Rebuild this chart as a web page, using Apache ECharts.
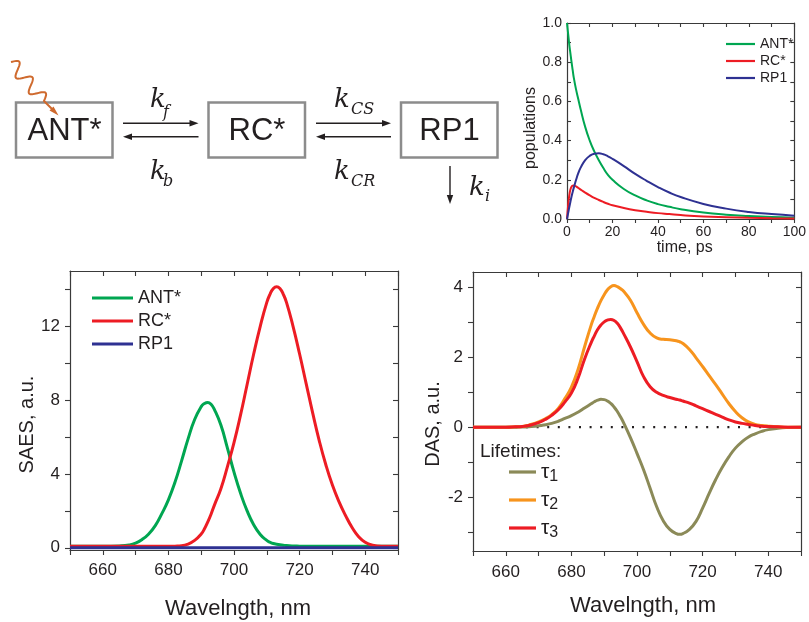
<!DOCTYPE html>
<html><head><meta charset="utf-8">
<script src="https://cdn.jsdelivr.net/npm/echarts@6/dist/echarts.min.js"></script>
<style>html,body{margin:0;padding:0;background:#fff}#c{width:809px;height:622px}</style>
</head><body><div id="c"></div>
<script>
// ---------- populations (top right) ----------
const popTime = [0,0.5,1,1.5,2,2.5,3,4,5,6,8,10,12,14,16,18,20,25,30,35,40,45,50,60,70,80,90,100];
const popANT  = [1.0,0.945,0.89,0.845,0.8,0.76,0.72,0.66,0.61,0.56,0.47,0.4,0.345,0.3,0.26,0.225,0.2,0.153,0.12,0.095,0.076,0.062,0.05,0.033,0.022,0.015,0.01,0.007];
const popRC   = [0,0.07,0.12,0.15,0.165,0.17,0.171,0.166,0.158,0.15,0.135,0.121,0.108,0.097,0.087,0.078,0.07,0.056,0.045,0.037,0.03,0.025,0.02,0.013,0.009,0.006,0.004,0.003];
const popRP1  = [0,0.03,0.06,0.088,0.115,0.138,0.16,0.2,0.235,0.262,0.3,0.322,0.333,0.335,0.33,0.32,0.307,0.27,0.23,0.195,0.163,0.135,0.112,0.077,0.053,0.036,0.025,0.017];

// ---------- SAES (bottom left) ----------
const saesWl  = [650,655,660,665,668,670,672,674,676,678,680,682,684,686,688,690,691,692,693,694,696,698,700,702,704,706,708,710,711,712,713,714,715,716,718,720,722,724,726,728,730,732,734,736,738,740,742,745,750];
const saesANT = [0.08,0.08,0.08,0.1,0.15,0.25,0.45,0.75,1.2,1.85,2.6,3.55,4.7,5.9,6.95,7.65,7.82,7.88,7.78,7.5,6.65,5.4,4.1,2.95,2.0,1.25,0.72,0.4,0.3,0.23,0.19,0.16,0.14,0.12,0.1,0.09,0.08,0.08,0.08,0.08,0.08,0.08,0.08,0.08,0.08,0.08,0.08,0.08,0.08];
const saesRC  = [0.08,0.08,0.08,0.08,0.08,0.08,0.08,0.08,0.08,0.08,0.08,0.09,0.11,0.2,0.4,0.75,1.03,1.4,1.82,2.3,3.2,4.4,5.7,7.2,8.85,10.5,12.0,13.3,13.75,14.05,14.15,14.05,13.75,13.3,12.0,10.5,8.9,7.3,5.8,4.5,3.4,2.5,1.75,1.1,0.6,0.3,0.15,0.08,0.08];
const saesRP1 = [0,0,0,0,0,0,0,0,0,0,0,0,0,0,0,0,0,0,0,0,0,0,0,0,0,0,0,0,0,0,0,0,0,0,0,0,0,0,0,0,0,0,0,0,0,0,0,0,0];
const saesYTicks = [0,2,4,6,8,10,12,14];
const saesYLabels = [0,4,8,12];

// ---------- DAS (bottom right) ----------
const dasWl   = [650,655,660,663,665,667,670,672,674,676,678,680,682,684,686,687,688,689,690,691,692,693,694,695,696,698,700,702,704,706,708,710,712,713,714,716,718,720,722,724,726,728,730,732,734,736,738,740,743,746,750];
const dasTau1 = [0,0,0,0,0.005,0.015,0.04,0.07,0.11,0.17,0.25,0.33,0.43,0.55,0.67,0.73,0.775,0.8,0.79,0.75,0.68,0.58,0.45,0.29,0.11,-0.3,-0.75,-1.22,-1.75,-2.28,-2.68,-2.93,-3.05,-3.07,-3.05,-2.93,-2.7,-2.32,-1.9,-1.5,-1.15,-0.85,-0.6,-0.42,-0.28,-0.19,-0.12,-0.07,-0.03,-0.01,0];
const dasTau2 = [0,0,0,0.01,0.02,0.06,0.15,0.24,0.36,0.54,0.82,1.15,1.65,2.3,2.92,3.18,3.42,3.63,3.8,3.94,4.03,4.06,4.03,3.97,3.89,3.64,3.28,2.95,2.7,2.56,2.52,2.51,2.48,2.45,2.4,2.23,1.99,1.74,1.48,1.22,0.95,0.68,0.45,0.27,0.15,0.08,0.05,0.03,0.01,0,0];
const dasTau3 = [0,0,0,0.01,0.02,0.05,0.13,0.22,0.34,0.5,0.72,0.98,1.4,1.95,2.42,2.62,2.8,2.93,3.02,3.07,3.09,3.06,2.98,2.84,2.67,2.3,1.88,1.45,1.16,1.0,0.91,0.85,0.8,0.78,0.75,0.69,0.61,0.53,0.45,0.37,0.29,0.21,0.15,0.11,0.08,0.05,0.03,0.02,0.01,0,0];
const dasZeroWl = [650,750];
const dasZero = [0,0];
const dasYTicks = [-3,-2,-1,0,1,2,3,4];
const dasYLabels = [-2,0,2,4];

const zip = (xs, ys) => xs.map((x, i) => [x, ys[i]]);

const ink = '#231f20';
const frame = '#3a3a3a';
const FONT = 'Liberation Sans';
const cGreen = '#00a651', cRed = '#ed1c24', cBlue = '#2e3192';
const cOlive = '#8b8a58', cOrange = '#f7941d';

const axLine = {show: true, onZero: false, lineStyle: {color: frame, width: 1.2}};
const tickStyle = {color: frame, width: 1.1};

function wlLabel(v) { return (v % 20 === 0 && v > 650 && v < 750) ? String(v) : ''; }

const xAxes = [
  {gridIndex: 0, type: 'value', min: 0, max: 100, interval: 20, axisLine: axLine,
   axisTick: {inside: false, length: 4, lineStyle: tickStyle},
   minorTick: {show: true, splitNumber: 2, length: 4, lineStyle: tickStyle},
   splitLine: {show: false}, minorSplitLine: {show: false},
   axisLabel: {fontSize: 14, color: ink, margin: 6, fontFamily: FONT},
   name: 'time, ps', nameLocation: 'middle', nameGap: 18,
   nameTextStyle: {fontSize: 16, color: ink, fontFamily: FONT, padding: [0, 0, 0, 8]}},
  {gridIndex: 0, type: 'value', position: 'top', min: 0, max: 100, interval: 20, axisLine: axLine,
   axisTick: {inside: true, length: 4, lineStyle: tickStyle},
   minorTick: {show: true, splitNumber: 2, length: 4, lineStyle: tickStyle},
   splitLine: {show: false}, axisLabel: {show: false}},
  {gridIndex: 1, type: 'value', min: 650, max: 750, interval: 10, axisLine: axLine,
   axisTick: {inside: false, length: 5, lineStyle: tickStyle}, splitLine: {show: false},
   axisLabel: {fontSize: 17, color: ink, margin: 12, fontFamily: FONT, formatter: wlLabel, showMinLabel: true, showMaxLabel: true},
   name: 'Wavelngth, nm', nameLocation: 'middle', nameGap: 48,
   nameTextStyle: {fontSize: 22, color: ink, fontFamily: FONT, padding: [0, 0, 0, 8]}},
  {gridIndex: 1, type: 'value', position: 'top', min: 650, max: 750, interval: 10, axisLine: axLine,
   axisTick: {inside: true, length: 5, lineStyle: tickStyle}, splitLine: {show: false}, axisLabel: {show: false}},
  {gridIndex: 2, type: 'value', min: 650, max: 750, interval: 10, axisLine: axLine,
   axisTick: {inside: false, length: 5, lineStyle: tickStyle}, splitLine: {show: false},
   axisLabel: {fontSize: 17, color: ink, margin: 13, fontFamily: FONT, formatter: wlLabel, showMinLabel: true, showMaxLabel: true},
   name: 'Wavelngth, nm', nameLocation: 'middle', nameGap: 44,
   nameTextStyle: {fontSize: 22, color: ink, fontFamily: FONT, padding: [0, 0, 0, 12]}},
  {gridIndex: 2, type: 'value', position: 'top', min: 650, max: 750, interval: 10, axisLine: axLine,
   axisTick: {inside: true, length: 5, lineStyle: tickStyle}, splitLine: {show: false}, axisLabel: {show: false}}
];

const yAxes = [
  {gridIndex: 0, type: 'value', min: 0, max: 1, interval: 0.2, axisLine: axLine,
   axisTick: {inside: true, length: 4, lineStyle: tickStyle},
   minorTick: {show: true, splitNumber: 2, length: 4, lineStyle: tickStyle},
   splitLine: {show: false}, minorSplitLine: {show: false},
   axisLabel: {fontSize: 14, color: ink, margin: 5, fontFamily: FONT, formatter: v => v.toFixed(1)},
   name: 'populations', nameLocation: 'middle', nameGap: 26,
   nameTextStyle: {fontSize: 16, color: ink, fontFamily: FONT, padding: [0, 14, 0, 0]}},
  {gridIndex: 0, type: 'value', position: 'right', min: 0, max: 1, interval: 0.2, axisLine: axLine,
   axisTick: {inside: true, length: 4, lineStyle: tickStyle},
   minorTick: {show: true, splitNumber: 2, length: 4, lineStyle: tickStyle},
   splitLine: {show: false}, axisLabel: {show: false}},
  {gridIndex: 1, type: 'value', min: -0.12, max: 15, axisLine: axLine,
   axisTick: {inside: false, length: 5, lineStyle: tickStyle, customValues: saesYTicks},
   splitLine: {show: false},
   axisLabel: {fontSize: 17, color: ink, margin: 10, fontFamily: FONT, customValues: saesYLabels},
   name: 'SAES, a.u.', nameLocation: 'middle', nameGap: 33,
   nameTextStyle: {fontSize: 20, color: ink, fontFamily: FONT, padding: [0, 28, 0, 0]}},
  {gridIndex: 1, type: 'value', position: 'right', min: -0.12, max: 15, axisLine: axLine,
   axisTick: {inside: true, length: 5, lineStyle: tickStyle, customValues: saesYTicks},
   splitLine: {show: false}, axisLabel: {show: false}},
  {gridIndex: 2, type: 'value', min: -3.55, max: 4.45, axisLine: axLine,
   axisTick: {inside: false, length: 5, lineStyle: tickStyle, customValues: dasYTicks},
   splitLine: {show: false},
   axisLabel: {fontSize: 17, color: ink, margin: 10, fontFamily: FONT, customValues: dasYLabels},
   name: 'DAS, a.u.', nameLocation: 'middle', nameGap: 27,
   nameTextStyle: {fontSize: 20, color: ink, fontFamily: FONT, padding: [0, 25, 0, 0]}},
  {gridIndex: 2, type: 'value', position: 'right', min: -3.55, max: 4.45, axisLine: axLine,
   axisTick: {inside: true, length: 5, lineStyle: tickStyle, customValues: dasYTicks},
   splitLine: {show: false}, axisLabel: {show: false}}
];

function line(name, data, color, width, xi, yi, extra) {
  return Object.assign({
    type: 'line', name: name, data: data, xAxisIndex: xi, yAxisIndex: yi,
    symbol: 'none', smooth: 0.5, lineStyle: {color: color, width: width}, itemStyle: {color: color},
    emphasis: {disabled: true}, silent: true
  }, extra || {});
}

const series = [
  line('ANT*', zip(popTime, popANT), cGreen, 2, 0, 0),
  line('RC*', zip(popTime, popRC), cRed, 2, 0, 0),
  line('RP1', zip(popTime, popRP1), cBlue, 2, 0, 0),
  line('ANT*', zip(saesWl, saesANT), cGreen, 3, 2, 2),
  line('RC*', zip(saesWl, saesRC), cRed, 3, 2, 2),
  line('RP1', zip(saesWl, saesRP1), cBlue, 3, 2, 2),
  line('zero', zip(dasZeroWl, dasZero), ink, 2.2, 4, 4, {smooth: false, lineStyle: {color: ink, width: 2.2, type: [2, 8.6]}}),
  line('τ1', zip(dasWl, dasTau1), cOlive, 3, 4, 4),
  line('τ2', zip(dasWl, dasTau2), cOrange, 3, 4, 4),
  line('τ3', zip(dasWl, dasTau3), cRed, 3, 4, 4)
];

// ---------- reaction scheme (decoration) ----------
function arrowH(x1, x2, y) {
  const d = x2 > x1 ? 1 : -1;
  return [
    {type: 'line', shape: {x1: x1, y1: y, x2: x2 - d * 6, y2: y}, style: {stroke: ink, lineWidth: 1.4}},
    {type: 'polygon', shape: {points: [[x2, y], [x2 - d * 9, y - 3.2], [x2 - d * 9, y + 3.2]]}, style: {fill: ink}}
  ];
}
function kLabel(x, y, sub, sx, sy) {
  return [
    {type: 'text', style: {text: 'k', x: x, y: y, fontFamily: 'DejaVu Serif', fontStyle: 'italic', fontSize: 26, fill: ink, align: 'center', verticalAlign: 'middle'}},
    {type: 'text', style: {text: sub, x: sx, y: sy, fontFamily: 'DejaVu Serif', fontStyle: 'italic', fontSize: 16, fill: ink, align: 'left', verticalAlign: 'middle'}}
  ];
}
function box(x, label) {
  return [
    {type: 'rect', shape: {x: x, y: 102.5, width: 96.5, height: 55}, style: {fill: '#fff', stroke: '#8c8c8c', lineWidth: 2.5}},
    {type: 'text', style: {text: label, x: x + 48.5, y: 131, fontFamily: FONT, fontSize: 31, fill: ink, align: 'center', verticalAlign: 'middle'}}
  ];
}
const wave = [];
(function () {
  const p0 = [11, 62], p1 = [44, 101];
  const dx = p1[0] - p0[0], dy = p1[1] - p0[1], L = Math.hypot(dx, dy);
  const px = dy / L, py = -dx / L;
  for (let i = 0; i <= 80; i++) {
    const s = i / 80, o = 6.5 * Math.sin(2 * Math.PI * 2.5 * s);
    wave.push([p0[0] + dx * s + px * o, p0[1] + dy * s + py * o]);
  }
  wave.push([52, 109]);
})();
const orange = '#cf6a2e';

const graphic = [].concat(
  box(16, 'ANT*'), box(208.5, 'RC*'), box(401, 'RP1'),
  arrowH(123, 198.5, 123.3), arrowH(198.5, 123, 136.7),
  arrowH(316, 391, 123.3), arrowH(391, 316, 136.7),
  [{type: 'line', shape: {x1: 450, y1: 166, x2: 450, y2: 196}, style: {stroke: ink, lineWidth: 1.4}},
   {type: 'polygon', shape: {points: [[450, 204], [446.8, 195], [453.2, 195]]}, style: {fill: ink}}],
  kLabel(158, 100, 'f', 163, 113), kLabel(158, 172, 'b', 163, 182),
  kLabel(342, 100, 'CS', 351, 110), kLabel(342, 172, 'CR', 351, 182),
  kLabel(477, 188, 'i', 485, 197),
  [{type: 'polyline', shape: {points: wave}, style: {stroke: orange, lineWidth: 2, fill: null}},
   {type: 'polygon', shape: {points: [[58.5, 115.5], [49.5, 110.5], [53.5, 106.5]]}, style: {fill: orange}}]
);

const chart = echarts.init(document.getElementById('c'), null, {renderer: 'canvas'});
chart.setOption({
  animation: false,
  backgroundColor: '#fff',
  textStyle: {fontFamily: FONT},
  grid: [
    {left: 567, top: 23, width: 232, height: 196},
    {left: 70, top: 271, width: 328, height: 279},
    {left: 473, top: 272, width: 328, height: 279}
  ],
  xAxis: xAxes,
  yAxis: yAxes,
  title: {text: 'Lifetimes:', left: 480, top: 442, padding: 0,
          textStyle: {fontSize: 19, fontWeight: 'normal', color: ink, fontFamily: FONT}},
  legend: [
    {data: ['ANT*', 'RC*', 'RP1'], orient: 'vertical', left: 726, top: 37, padding: 0,
     icon: 'rect', itemWidth: 29, itemHeight: 2.2, itemGap: 3, selectedMode: false,
     textStyle: {fontSize: 14, color: ink, fontFamily: FONT}},
    {data: ['ANT*', 'RC*', 'RP1'], orient: 'vertical', left: 92, top: 289, padding: 0,
     icon: 'rect', itemWidth: 41, itemHeight: 3.2, itemGap: 5, selectedMode: false,
     textStyle: {fontSize: 18, color: ink, fontFamily: FONT}},
    {data: ['τ1', 'τ2', 'τ3'], orient: 'vertical', left: 509, top: 459, padding: 0,
     icon: 'rect', itemWidth: 27, itemHeight: 3.2, itemGap: 2, selectedMode: false,
     formatter: n => '{t|τ}{s|' + n.substring(1) + '}',
     textStyle: {color: ink, fontFamily: FONT,
       rich: {t: {fontSize: 21, fontFamily: FONT, color: ink, lineHeight: 22},
              s: {fontSize: 16, fontFamily: FONT, color: ink, lineHeight: 22, padding: [10, 0, 0, 0]}}}}
  ],
  series: series,
  graphic: graphic
});
</script></body></html>
